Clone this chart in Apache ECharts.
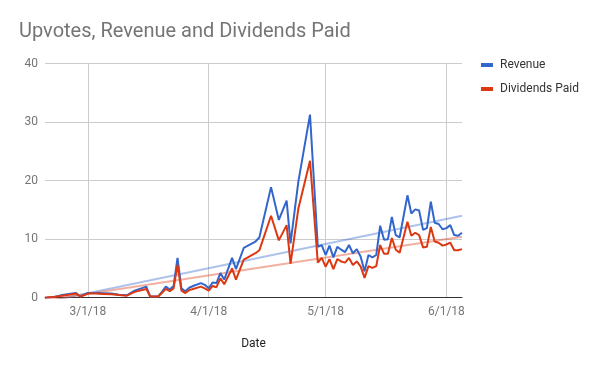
<!DOCTYPE html>
<html>
<head>
<meta charset="utf-8">
<script src="https://cdn.jsdelivr.net/npm/echarts@6/dist/echarts.min.js"></script>
<style>html,body{margin:0;padding:0;background:#fff}#c{width:600px;height:371px}</style>
</head>
<body>
<div id="c"></div>
<script>
const dates = [
 '2018-02-18','2018-02-20','2018-02-22','2018-02-25','2018-02-26','2018-02-27','2018-02-28',
 '2018-03-01','2018-03-03','2018-03-05','2018-03-07','2018-03-09','2018-03-11','2018-03-13',
 '2018-03-16','2018-03-17','2018-03-19','2018-03-20','2018-03-21','2018-03-22','2018-03-23',
 '2018-03-24','2018-03-25','2018-03-26','2018-03-27','2018-03-28','2018-03-30','2018-03-31',
 '2018-04-01','2018-04-02','2018-04-03','2018-04-04','2018-04-05','2018-04-07','2018-04-08',
 '2018-04-10','2018-04-13','2018-04-14','2018-04-17','2018-04-19','2018-04-21','2018-04-22',
 '2018-04-24','2018-04-27','2018-04-29','2018-04-30',
 '2018-05-01','2018-05-02','2018-05-03','2018-05-04','2018-05-05','2018-05-06','2018-05-07',
 '2018-05-08','2018-05-09','2018-05-10','2018-05-11','2018-05-12','2018-05-13','2018-05-14',
 '2018-05-15','2018-05-16','2018-05-17','2018-05-18','2018-05-19','2018-05-20','2018-05-22',
 '2018-05-23','2018-05-24','2018-05-25','2018-05-26','2018-05-27','2018-05-28','2018-05-29',
 '2018-05-30','2018-05-31','2018-06-01','2018-06-02','2018-06-03','2018-06-04','2018-06-05'
];
const revenue = [
 0, 0.1, 0.4, 0.7, 0.8, 0.2, 0.5,
 0.8, 0.8, 0.75, 0.7, 0.5, 0.4, 1.2,
 1.9, 0.2, 0.2, 1.0, 1.9, 1.4, 2.0,
 6.8, 1.6, 1.1, 1.7, 2.0, 2.5, 2.2,
 1.6, 2.6, 2.5, 4.2, 3.1, 6.8, 4.9,
 8.5, 9.6, 10.3, 18.9, 13.3, 16.6, 9.3,
 19.8, 31.3, 8.7, 9.0,
 7.3, 8.9, 6.9, 8.7, 8.2, 7.8, 9.0,
 7.6, 8.3, 7.0, 4.5, 7.3, 6.9, 7.3,
 12.3, 9.9, 10.0, 13.8, 10.7, 10.3, 17.5,
 14.4, 15.1, 14.9, 11.6, 11.9, 16.4, 12.8,
 12.6, 11.7, 11.9, 12.4, 10.7, 10.6, 11.1
];
const dividends = [
 0, 0.1, 0.3, 0.6, 0.7, 0.2, 0.4,
 0.7, 0.7, 0.65, 0.6, 0.45, 0.35, 1.0,
 1.5, 0.2, 0.2, 0.8, 1.5, 1.1, 1.6,
 5.6, 1.2, 0.8, 1.3, 1.5, 1.9, 1.6,
 1.2, 2.0, 1.8, 3.3, 2.3, 5.0, 3.1,
 6.5, 7.6, 8.1, 14.0, 9.8, 12.4, 5.8,
 15.2, 23.4, 6.0, 6.8,
 5.3, 6.6, 4.9, 6.6, 6.2, 6.0, 6.8,
 5.6, 6.2, 5.3, 3.4, 5.4, 5.1, 5.4,
 9.0, 7.5, 7.5, 10.2, 8.2, 7.7, 13.0,
 10.6, 11.1, 10.7, 8.6, 8.7, 12.1, 9.6,
 9.4, 8.9, 9.1, 9.4, 8.1, 8.1, 8.3
];
const trendDates = ['2018-02-18', '2018-06-05'];
const revenueTrend = [-0.75, 14.0];
const dividendsTrend = [-0.46, 10.4];
const yTicks = [0, 10, 20, 30, 40];

const pair = (ds, vs) => ds.map((d, i) => [d, vs[i]]);
const BLUE = '#3366cc', RED = '#dc3912';
const FONT = 'Roboto';

const chart = echarts.init(document.getElementById('c'));
chart.setOption({
  animation: false,
  backgroundColor: '#fff',
  textStyle: { fontFamily: FONT },
  title: {
    text: 'Upvotes, Revenue and Dividends Paid',
    left: 19, top: 22, padding: 0,
    textStyle: { fontFamily: FONT, fontSize: 20, fontWeight: 'normal', color: '#757575' }
  },
  legend: {
    orient: 'vertical', left: 481, top: 58, itemGap: 10, padding: 0,
    itemWidth: 12, itemHeight: 4, icon: 'rect',
    data: ['Revenue', 'Dividends Paid'],
    textStyle: { fontFamily: FONT, fontSize: 12, color: '#333', padding: [0, 0, 0, 2], lineHeight: 14 }
  },
  grid: { left: 45, right: 138, top: 63.7, bottom: 73.3, containLabel: false },
  xAxis: {
    type: 'time',
    min: '2018-02-18', max: '2018-06-05',
    minInterval: 28 * 86400000, maxInterval: 31 * 86400000,
    name: 'Date', nameLocation: 'middle', nameGap: 40,
    nameTextStyle: { fontFamily: FONT, fontSize: 12, color: '#222' },
    axisLine: { lineStyle: { color: '#333', width: 1 } },
    axisTick: { show: false },
    axisLabel: {
      fontFamily: FONT, fontSize: 12, color: '#757575', margin: 8, hideOverlap: false,
      formatter: v => { const d = new Date(v); return (d.getMonth() + 1) + '/' + d.getDate() + '/' + String(d.getFullYear()).slice(2); }
    },
    splitLine: { show: true, showMinLine: false, showMaxLine: false, lineStyle: { color: '#cccccc', width: 1 } }
  },
  yAxis: {
    type: 'value', min: yTicks[0], max: yTicks[yTicks.length - 1], interval: 10,
    axisLine: { show: false }, axisTick: { show: false },
    axisLabel: { fontFamily: FONT, fontSize: 12, color: '#757575', margin: 7 },
    splitLine: { lineStyle: { color: '#cccccc', width: 1 } }
  },
  series: [
    { name: 'Revenue trend', type: 'line', data: pair(trendDates, revenueTrend), showSymbol: false, silent: true,
      lineStyle: { color: BLUE, width: 2, opacity: 0.4 }, itemStyle: { color: BLUE }, z: 1 },
    { name: 'Dividends trend', type: 'line', data: pair(trendDates, dividendsTrend), showSymbol: false, silent: true,
      lineStyle: { color: RED, width: 2, opacity: 0.4 }, itemStyle: { color: RED }, z: 1 },
    { name: 'Revenue', type: 'line', data: pair(dates, revenue), showSymbol: false,
      lineStyle: { color: BLUE, width: 2 }, itemStyle: { color: BLUE }, z: 3 },
    { name: 'Dividends Paid', type: 'line', data: pair(dates, dividends), showSymbol: false,
      lineStyle: { color: RED, width: 2 }, itemStyle: { color: RED }, z: 4 }
  ]
});
</script>
</body>
</html>
